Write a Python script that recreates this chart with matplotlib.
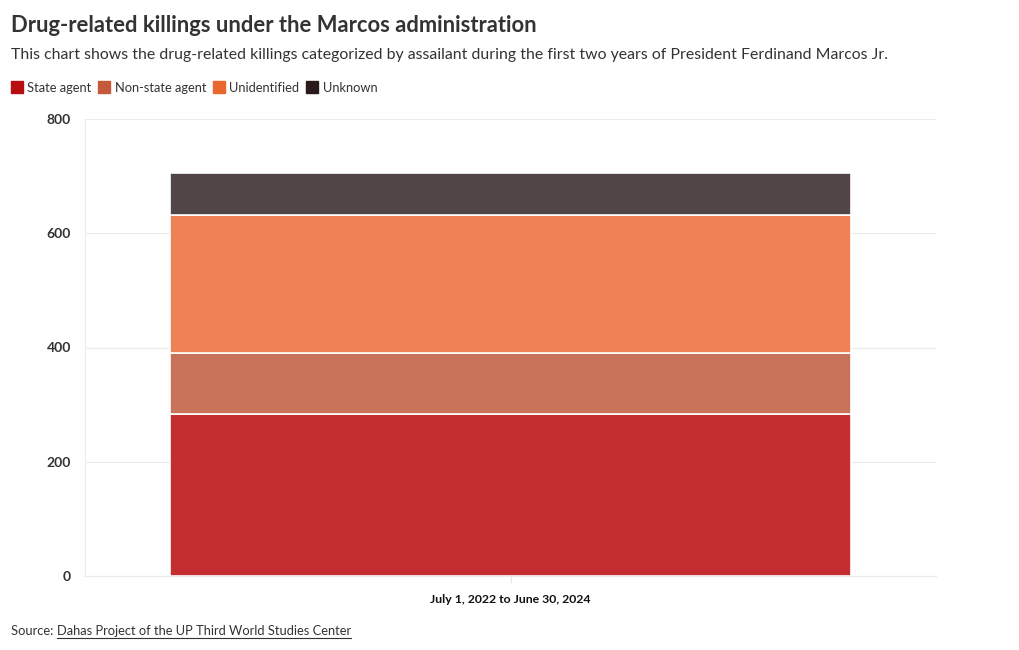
import matplotlib
matplotlib.use("Agg")
import matplotlib.pyplot as plt
from matplotlib.lines import Line2D

plt.rcParams["font.family"] = ["Lato", "DejaVu Sans"]

# data
categories = ["July 1, 2022 to June 30, 2024"]
series_names = ["State agent", "Non-state agent", "Unidentified", "Unknown"]
state_agent = [284]
non_state_agent = [107]
unidentified = [241]
unknown = [73]
y_ticks = [0, 200, 400, 600, 800]

bar_colors = ["#c42e31", "#c8725a", "#ee8155", "#514645"]
legend_colors = ["#b50d10", "#c45a3b", "#e9682f", "#2b1a1a"]

fig = plt.figure(figsize=(10.2, 6.5), dpi=100)
ax = fig.add_axes([85 / 1020, 1 - 576 / 650, 851 / 1020, 457 / 650])

bottom = [0] * len(categories)
for vals, col in zip([state_agent, non_state_agent, unidentified, unknown], bar_colors):
    ax.bar(categories, vals, bottom=bottom, width=0.8, color=col,
           edgecolor="white", linewidth=1.2, zorder=3)
    bottom = [b + v for b, v in zip(bottom, vals)]

ax.set_xlim(-0.5, 0.5)
ax.set_ylim(0, 800)
ax.set_yticks(y_ticks)
ax.set_yticklabels([str(t) for t in y_ticks], fontsize=10, fontweight="bold", color="#333333")
ax.tick_params(axis="y", length=0, pad=10)
ax.tick_params(axis="x", length=5, color="#e6e6e6", pad=8)
for lbl in ax.get_xticklabels():
    lbl.set_fontsize(8.8)
    lbl.set_fontweight("bold")
    lbl.set_color("#111111")
ax.grid(axis="y", color="#ebebeb", linewidth=0.8, zorder=0)
for s in ["top", "right"]:
    ax.spines[s].set_visible(False)
ax.spines["left"].set_color("#ebebeb")
ax.spines["bottom"].set_color("#ebebeb")

# titles
fig.text(11 / 1020, 1 - 25 / 650, "Drug-related killings under the Marcos administration",
         fontsize=15.8, fontweight="bold", color="#333333", va="center")
fig.text(11 / 1020, 1 - 55 / 650,
         "This chart shows the drug-related killings categorized by assailant during the first two years of President Ferdinand Marcos Jr.",
         fontsize=11.4, color="#333333", va="center")

# legend
handles = [Line2D([], [], marker="s", linestyle="none", markersize=9,
                  markerfacecolor=c, markeredgecolor=c) for c in legend_colors]
fig.legend(handles, series_names, loc="center left", bbox_to_anchor=(0 / 1020, 1 - 88 / 650),
           ncol=4, frameon=False, fontsize=9.3, handletextpad=0.4, columnspacing=0.6,
           handlelength=0.8, labelcolor="#333333")

# source
src = fig.text(11 / 1020, 1 - 631 / 650, "Source: ", fontsize=9.3, color="#333333", va="center")
fig.canvas.draw()
r = fig.canvas.get_renderer()
bb = src.get_window_extent(r)
x1 = bb.x1 / fig.bbox.width
link = fig.text(x1, 1 - 631 / 650, "Dahas Project of the UP Third World Studies Center",
                fontsize=9.3, color="#333333", va="center")
fig.canvas.draw()
lb = link.get_window_extent(r)
uy = (lb.y0 - 1) / fig.bbox.height
fig.add_artist(Line2D([lb.x0 / fig.bbox.width, lb.x1 / fig.bbox.width], [uy, uy],
                      color="#333333", linewidth=0.8, transform=fig.transFigure))

fig.savefig("out.png", dpi=100)
